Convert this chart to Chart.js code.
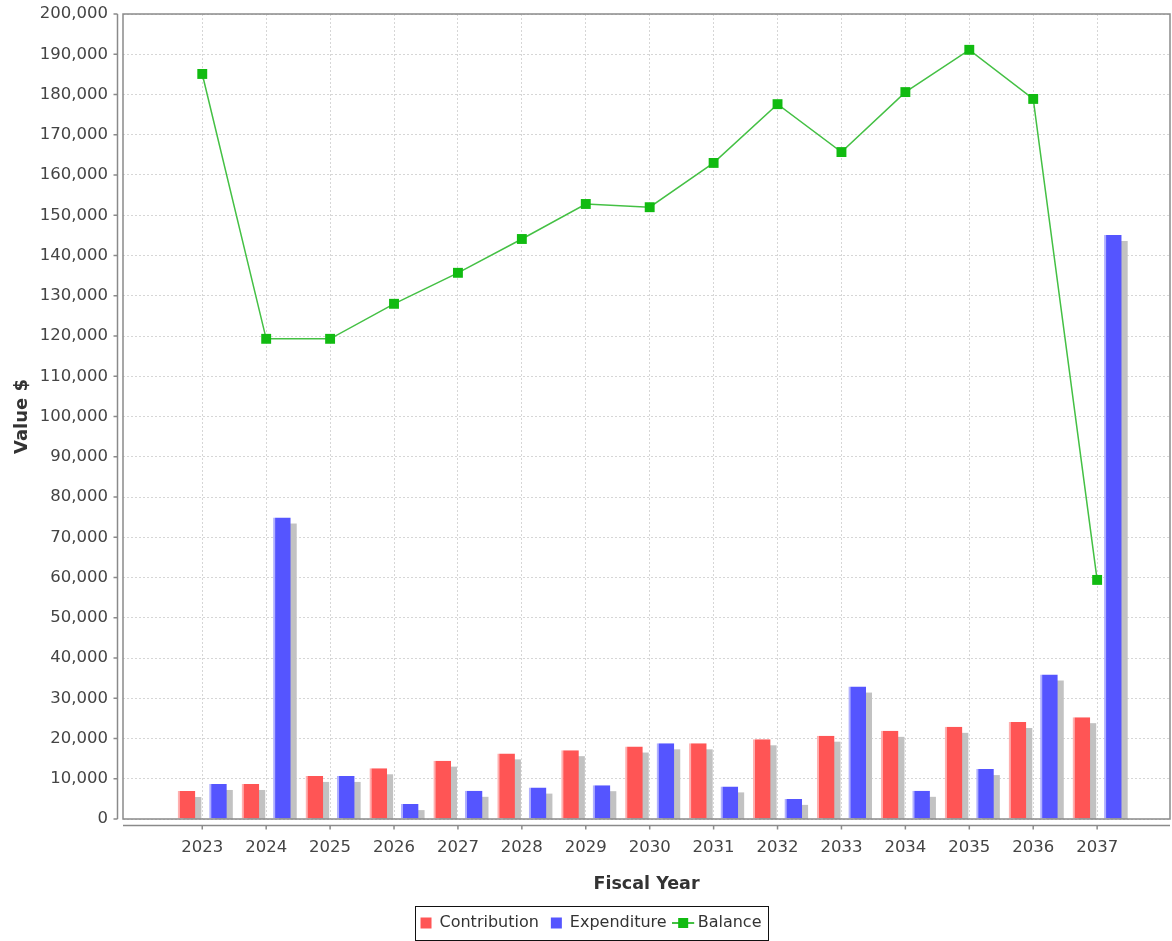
<!DOCTYPE html>
<html>
<head>
<meta charset="utf-8">
<title>Fiscal Year - Contribution, Expenditure, Balance</title>
<script src="https://cdn.jsdelivr.net/npm/chart.js@4.4.1/dist/chart.umd.min.js"></script>
<style>
  html, body { margin: 0; padding: 0; background: #fff; }
  #chart { display: block; }
</style>
</head>
<body>
<canvas id="chart" width="1172" height="941"></canvas>
<script>
// Values
const years = ['2023', '2024', '2025', '2026', '2027', '2028', '2029', '2030',
               '2031', '2032', '2033', '2034', '2035', '2036', '2037'];
const contribution = [6950, 8700, 10700, 12600, 14500, 16300, 17100, 18000,
                      18800, 19800, 20700, 21900, 22900, 24100, 25300];
const expenditure = [8700, 74900, 10700, 3700, 7000, 7800, 8400, 18800,
                     8100, 5000, 32900, 7000, 12400, 35900, 145100];
const balance = [185100, 119300, 119300, 128000, 135700, 144100, 152800, 152000,
                 163000, 177600, 165700, 180600, 191100, 178900, 59400];
const yMin = 0;
const yMax = 200000;
const yStep = 10000;

const RED = '#ff5555';
const BLUE = '#5555ff';
const LINE_GREEN = '#44c044';
const MARK_GREEN = '#11bb11';
const TEXT = '#444';

Chart.defaults.font.family = '"DejaVu Sans", sans-serif';

function toPoints(values) {
    return values.map((v, i) => ({ x: Number(years[i]), y: v }));
}

// little line-with-square icon for the Balance legend entry
// (2px of empty space on the right pulls it slightly left of the item centre)
const balanceIcon = document.createElement('canvas');
balanceIcon.width = 24;
balanceIcon.height = 12;
(function () {
    const ic = balanceIcon.getContext('2d');
    ic.strokeStyle = LINE_GREEN;
    ic.lineWidth = 2;
    ic.beginPath();
    ic.moveTo(0, 6);
    ic.lineTo(22, 6);
    ic.stroke();
    ic.fillStyle = MARK_GREEN;
    ic.fillRect(6, 1, 10, 10);
})();

// bar shadows, plot outline, offset axis lines and the legend frame
const decorations = {
    id: 'decorations',
    afterLayout(chart) {
        // the legend sits a little right of the canvas centre
        chart.legend.left += 6;
        chart.legend.right += 6;
    },
    beforeDatasetsDraw(chart) {
        const { ctx, chartArea: a } = chart;
        ctx.save();
        ctx.beginPath();
        ctx.rect(a.left, a.top, a.right - a.left, a.bottom - a.top);
        ctx.clip();
        ctx.fillStyle = '#c2c2c2';
        chart.data.datasets.forEach((ds, i) => {
            if (ds.type !== 'bar') return;
            chart.getDatasetMeta(i).data.forEach(bar => {
                const p = bar.getProps(['x', 'y', 'base', 'width'], true);
                ctx.fillRect(p.x - p.width / 2 + 6, p.y + 6, p.width, p.base - p.y);
            });
        });
        ctx.restore();
    },
    afterDraw(chart) {
        const { ctx, chartArea: a, scales } = chart;
        ctx.save();
        ctx.strokeStyle = '#8a8a8a';
        ctx.lineWidth = 1.5;
        ctx.strokeRect(a.left, a.top, a.right - a.left, a.bottom - a.top);

        // y axis line + ticks
        const ax = a.left - 5.5;
        ctx.beginPath();
        ctx.moveTo(ax, a.top);
        ctx.lineTo(ax, a.bottom);
        scales.y.ticks.forEach((t, i) => {
            const py = scales.y.getPixelForTick(i);
            ctx.moveTo(ax, py);
            ctx.lineTo(ax - 4, py);
        });
        // x axis line + ticks
        const ay = a.bottom + 6.5;
        ctx.moveTo(a.left, ay);
        ctx.lineTo(a.right, ay);
        scales.x.ticks.forEach((t, i) => {
            const px = scales.x.getPixelForTick(i);
            ctx.moveTo(px, ay);
            ctx.lineTo(px, ay + 4);
        });
        ctx.stroke();

        // legend frame
        const boxes = chart.legend.legendHitBoxes;
        if (boxes && boxes.length) {
            const l = Math.min(...boxes.map(b => b.left)) - 6;
            const r = Math.max(...boxes.map(b => b.left + b.width)) + 6;
            const t = boxes[0].top - 9;
            const h = boxes[0].height + 18;
            ctx.strokeStyle = '#111';
            ctx.lineWidth = 1;
            ctx.strokeRect(Math.round(l) + 0.5, Math.round(t) + 0.5, Math.round(r - l), Math.round(h));
        }
        ctx.restore();
    }
};

const ctx = document.getElementById('chart').getContext('2d');
new Chart(ctx, {
    data: {
        datasets: [
            {
                type: 'bar',
                label: 'Contribution',
                data: toPoints(contribution),
                backgroundColor: RED,
                borderColor: '#ffb0b0',
                borderWidth: { left: 2, top: 0, right: 0, bottom: 0 },
                borderSkipped: false,
                categoryPercentage: 0.985,
                barPercentage: 0.56,
                order: 1
            },
            {
                type: 'bar',
                label: 'Expenditure',
                data: toPoints(expenditure),
                backgroundColor: BLUE,
                borderColor: '#b0b0ff',
                borderWidth: { left: 2, top: 0, right: 0, bottom: 0 },
                borderSkipped: false,
                categoryPercentage: 0.985,
                barPercentage: 0.56,
                order: 1
            },
            {
                type: 'line',
                label: 'Balance',
                data: toPoints(balance),
                borderColor: LINE_GREEN,
                borderWidth: 1.5,
                tension: 0,
                pointStyle: 'rect',
                pointRadius: 7,
                pointBorderWidth: 0,
                pointBackgroundColor: MARK_GREEN,
                order: 0
            }
        ]
    },
    options: {
        responsive: false,
        animation: false,
        events: [],
        layout: {
            autoPadding: false,
            padding: { top: 14, right: 2, left: 0, bottom: 0 }
        },
        scales: {
            x: {
                type: 'linear',
                offset: false,
                min: 2021.76,
                max: 2038.14,
                afterBuildTicks: scale => {
                    scale.ticks = years.map(y => ({ value: Number(y) }));
                },
                afterFit: scale => {
                    scale.height = 84;
                    scale.paddingLeft = 0;
                    scale.paddingRight = 0;
                },
                ticks: {
                    autoSkip: false,
                    maxRotation: 0,
                    padding: 19,
                    color: TEXT,
                    font: { size: 16.5 },
                    callback: (v, i) => years[i]
                },
                grid: { color: '#d6d6d6', drawTicks: false, offset: false },
                border: { display: false, dash: [2, 2] },
                title: {
                    display: true,
                    text: 'Fiscal Year',
                    color: '#333',
                    font: { size: 17.5, weight: 'bold' },
                    padding: { top: 0, bottom: 8 }
                }
            },
            y: {
                min: yMin,
                max: yMax,
                afterFit: scale => {
                    scale.width = 123;
                    scale.paddingTop = 0;
                    scale.paddingBottom = 0;
                },
                ticks: {
                    stepSize: yStep,
                    padding: 15,
                    color: TEXT,
                    font: { size: 16.5 },
                    callback: v => v.toLocaleString('en-US')
                },
                grid: { color: '#d6d6d6', drawTicks: false },
                border: { display: false, dash: [2, 2] },
                title: {
                    display: true,
                    text: 'Value $',
                    color: '#333',
                    font: { size: 18, weight: 'bold' },
                    padding: { top: 12, bottom: 0 }
                }
            }
        },
        plugins: {
            tooltip: { enabled: false },
            legend: {
                display: true,
                position: 'bottom',
                labels: {
                    usePointStyle: true,
                    boxWidth: 11,
                    boxHeight: 11,
                    padding: 12,
                    color: '#333',
                    font: { size: 16 },
                    sort: (a, b) => a.datasetIndex - b.datasetIndex,
                    generateLabels: chart => {
                        const items = Chart.defaults.plugins.legend.labels.generateLabels(chart);
                        items.forEach(item => {
                            const ds = chart.data.datasets[item.datasetIndex];
                            item.lineWidth = 0;
                            if (ds.type === 'line') {
                                item.pointStyle = balanceIcon;
                            } else {
                                item.pointStyle = 'rect';
                                item.fillStyle = ds.backgroundColor;
                            }
                        });
                        return items;
                    }
                }
            }
        }
    },
    plugins: [decorations]
});
</script>
</body>
</html>
